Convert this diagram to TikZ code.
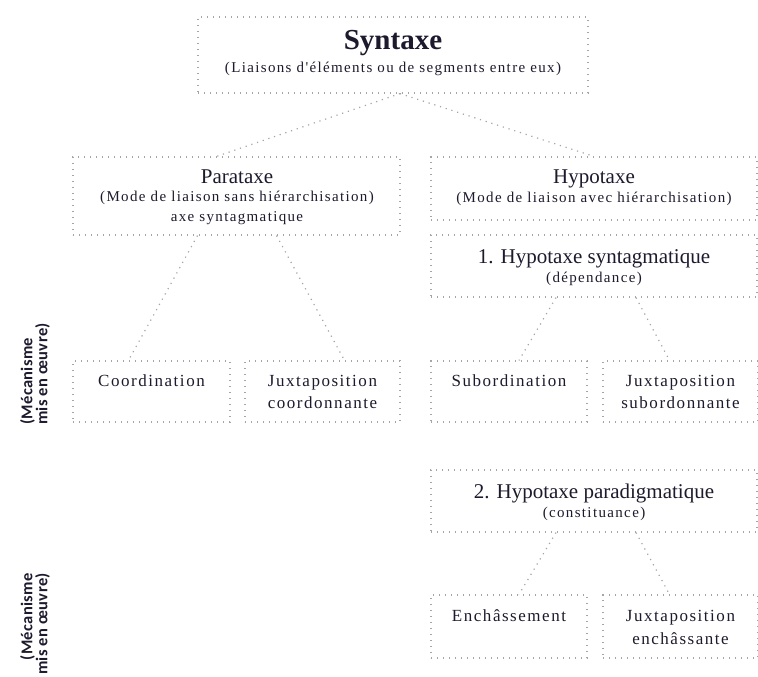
\documentclass[tikz,border=0pt]{standalone}
\usepackage{fontspec}
\setmainfont{Liberation Serif}
\newfontfamily\spaced[LetterSpace=9]{Liberation Serif}
\newfontfamily\sidefont[LetterSpace=2]{Carlito}
\definecolor{dotgray}{RGB}{165,165,165}
\definecolor{ink}{RGB}{28,26,44}
\newcommand\ttlfnt{\fontsize{21}{24}\selectfont}
\newcommand\subfnt{\spaced\fontsize{15}{18}\selectfont}
\newcommand\boxfnt{\spaced\fontsize{17}{20}\selectfont}
\begin{document}
\begin{tikzpicture}[x=1pt, y=-1pt,
    box/.style={draw=dotgray, line width=1.2pt, dash pattern=on 1.2pt off 4.8pt, inner sep=0pt},
    link/.style={draw=dotgray, line width=1.2pt, dash pattern=on 1.2pt off 4.8pt},
    txt/.style={anchor=base, text=ink, inner sep=0pt},
    side/.style={rotate=90, text=ink, inner sep=0pt, font=\sidefont\bfseries\fontsize{16.5}{15}\selectfont}]
    \useasboundingbox (0,0) rectangle (758,677);
    \clip (0,0) rectangle (758,677);

    % boxes
    \node[box, minimum width=390pt, minimum height=76pt] (syn) at (393,55) {};
    \node[box, minimum width=327pt, minimum height=78pt] (para) at (236.5,196) {};
    \node[box, minimum width=326pt, minimum height=63pt] (hypo) at (594,188.5) {};
    \node[box, minimum width=326pt, minimum height=62pt] (hs1) at (594,266) {};
    \node[box, minimum width=326pt, minimum height=62pt] (hs2) at (594,501) {};
    \node[box, minimum width=157pt, minimum height=61pt] (coord) at (151.5,391.5) {};
    \node[box, minimum width=155pt, minimum height=61pt] (juxc) at (322.5,391.5) {};
    \node[box, minimum width=156pt, minimum height=61pt] (subo) at (509,391.5) {};
    \node[box, minimum width=155pt, minimum height=61pt] (juxs) at (680.5,391.5) {};
    \node[box, minimum width=156pt, minimum height=63pt] (ench) at (509,626.5) {};
    \node[box, minimum width=155pt, minimum height=63pt] (juxe) at (680.5,626.5) {};

    % texts
    \node[txt, font=\bfseries\fontsize{29}{30}\selectfont] (syn-t) at (393,50) {Syntaxe};
    \node[txt, font=\subfnt] (syn-s) at (393,73) {(Liaisons d'éléments ou de segments entre eux)};
    \node[txt, font=\ttlfnt] (para-t) at (237,183) {Parataxe};
    \node[txt, font=\subfnt] (para-s) at (237,201) {(Mode de liaison sans hiérarchisation)};
    \node[txt, font=\subfnt] (para-a) at (237,221) {axe syntagmatique};
    \node[txt, font=\ttlfnt] (hypo-t) at (594,183) {Hypotaxe};
    \node[txt, font=\subfnt] (hypo-s) at (594,202) {(Mode de liaison avec hiérarchisation)};
    \node[txt, font=\ttlfnt] (hs1-t) at (594,263) {1. Hypotaxe syntagmatique};
    \node[txt, font=\subfnt] (hs1-s) at (594,282) {(dépendance)};
    \node[txt, font=\ttlfnt] (hs2-t) at (594,498) {2. Hypotaxe paradigmatique};
    \node[txt, font=\subfnt] (hs2-s) at (594,517) {(constituance)};
    \node[txt, font=\boxfnt] (coord-t) at (151.5,386) {Coordination};
    \node[txt, font=\boxfnt] (juxc-t) at (322.5,386) {Juxtaposition};
    \node[txt, font=\boxfnt] (juxc-s) at (322.5,408) {coordonnante};
    \node[txt, font=\boxfnt] (subo-t) at (509,386) {Subordination};
    \node[txt, font=\boxfnt] (juxs-t) at (680.5,386) {Juxtaposition};
    \node[txt, font=\boxfnt] (juxs-s) at (680.5,408) {subordonnante};
    \node[txt, font=\boxfnt] (ench-t) at (509,621) {Enchâssement};
    \node[txt, font=\boxfnt] (juxe-t) at (680.5,621) {Juxtaposition};
    \node[txt, font=\boxfnt] (juxe-s) at (680.5,644) {enchâssante};

    % side labels
    \node[side, anchor=west, align=left] (meca1) at (35,425) {(Mécanisme\\mis en œuvre)};
    \node[side, anchor=east, align=right] (meca2) at (35,573) {(Mécanisme\\mis en œuvre)};

    % links
    \draw[link] ([xshift=7pt]syn.south) -- ([xshift=-20pt]para.north);
    \draw[link] ([xshift=7pt]syn.south) -- (hypo.north);
    \draw[link] ([xshift=-39pt]para.south) -- ([xshift=-23pt]coord.north);
    \draw[link] ([xshift=40pt]para.south) -- ([xshift=22pt]juxc.north);
    \draw[link] ([xshift=-38pt]hs1.south) -- ([xshift=10pt]subo.north);
    \draw[link] ([xshift=42pt]hs1.south) -- ([xshift=-11pt]juxs.north);
    \draw[link] ([xshift=-38pt]hs2.south) -- ([xshift=10pt]ench.north);
    \draw[link] ([xshift=42pt]hs2.south) -- ([xshift=-11pt]juxe.north);
\end{tikzpicture}
\end{document}
